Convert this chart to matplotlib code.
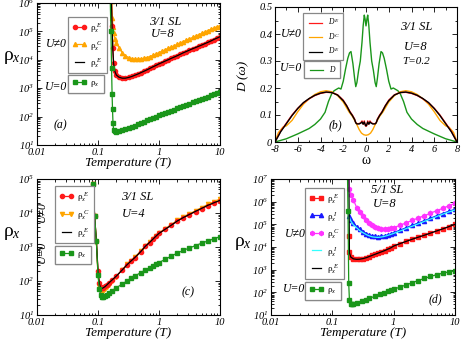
import numpy as np
import matplotlib
matplotlib.use('Agg')
import matplotlib.pyplot as plt
from matplotlib.lines import Line2D
from matplotlib.ticker import FuncFormatter, LogLocator, NullFormatter, MultipleLocator

plt.rcParams['font.family'] = ['Liberation Serif', 'DejaVu Serif']
plt.rcParams['font.style'] = 'italic'
plt.rcParams['mathtext.fontset'] = 'custom'
plt.rcParams['mathtext.rm'] = 'Liberation Serif:italic'
plt.rcParams['mathtext.it'] = 'Liberation Serif:italic'
plt.rcParams['axes.linewidth'] = 0.8

RED = '#ff1a1a'
ORANGE = '#ffa500'
GREEN = '#1a961a'
BLUE = '#1a1aff'
MAGENTA = '#ff33ff'
CYAN = '#33ffff'

# ---- panel (a): 3/1 SL, U=8 ----
Ta_E = [0.165, 0.17, 0.175, 0.18, 0.19, 0.2, 0.22, 0.25, 0.28, 0.32, 0.36, 0.4, 0.45, 0.5,
        0.56, 0.63, 0.71, 0.8, 0.9, 1.0, 1.12, 1.26, 1.41, 1.58, 1.78, 2.0, 2.24, 2.51,
        2.82, 3.16, 3.55, 3.98, 4.47, 5.01, 5.62, 6.31, 7.08, 7.94, 8.91, 10.0]
rho_a_E = [2e6, 1.5e5, 2.5e4, 8e3, 4e3, 3e3, 2.5e3, 2.2e3, 2.2e3, 2.4e3, 2.6e3, 2.9e3, 3.2e3,
           3.5e3, 3.9e3, 4.4e3, 5.0e3, 5.7e3, 6.4e3, 7.2e3, 8e3, 9e3, 1.0e4, 1.12e4, 1.25e4,
           1.4e4, 1.55e4, 1.75e4, 1.95e4, 2.2e4, 2.45e4, 2.7e4, 3.0e4, 3.3e4, 3.7e4, 4.1e4,
           4.6e4, 5.1e4, 5.8e4, 6.5e4]
rho_a_E2 = [2e6, 1.4e5, 2.4e4, 7.5e3, 3.8e3, 2.9e3, 2.45e3, 2.25e3, 2.25e3, 2.4e3, 2.6e3,
            2.85e3, 3.15e3, 3.5e3, 3.9e3, 4.4e3, 5.0e3, 5.7e3, 6.4e3, 7.2e3, 8e3, 9e3,
            1.0e4, 1.12e4, 1.25e4, 1.4e4, 1.57e4, 1.77e4, 1.97e4, 2.2e4, 2.45e4, 2.7e4,
            3.0e4, 3.3e4, 3.7e4, 4.1e4, 4.6e4, 5.2e4, 5.8e4, 6.5e4]
Ta_C = [0.168, 0.172, 0.176, 0.18, 0.19, 0.2, 0.22, 0.25, 0.28, 0.32, 0.36, 0.4, 0.45, 0.5,
        0.56, 0.63, 0.71, 0.8, 0.9, 1.0, 1.12, 1.26, 1.41, 1.58, 1.78, 2.0, 2.24, 2.51,
        2.82, 3.16, 3.55, 3.98, 4.47, 5.01, 5.62, 6.31, 7.08, 7.94, 8.91, 10.0]
rho_a_C = [1.2e6, 3e5, 1.4e5, 8.5e4, 5.5e4, 4e4, 2.7e4, 1.8e4, 1.4e4, 1.2e4, 1.1e4, 1.05e4,
           1.05e4, 1.08e4, 1.12e4, 1.2e4, 1.3e4, 1.45e4, 1.6e4, 1.8e4, 2.0e4, 2.25e4, 2.5e4,
           2.8e4, 3.1e4, 3.5e4, 3.9e4, 4.4e4, 4.9e4, 5.5e4, 6.1e4, 6.8e4, 7.6e4, 8.5e4,
           9.5e4, 1.06e5, 1.18e5, 1.3e5, 1.45e5, 1.6e5]
Ta_0 = [0.158, 0.163, 0.167, 0.17, 0.173, 0.176, 0.18, 0.19, 0.2, 0.22, 0.25, 0.28, 0.32,
        0.36, 0.4, 0.45, 0.5, 0.56, 0.63, 0.71, 0.8, 0.9, 1.0, 1.12, 1.26, 1.41, 1.58, 1.78,
        2.0, 2.24, 2.51, 2.82, 3.16, 3.55, 3.98, 4.47, 5.01, 5.62, 6.31, 7.08, 7.94, 8.91, 10.0]
rho_a_0 = [2e6, 1e5, 5e3, 650, 180, 60, 35, 30, 29, 30, 33, 36, 40, 44, 48, 54, 60, 66, 73,
           81, 90, 100, 110, 121, 133, 147, 161, 177, 195, 215, 236, 260, 286, 315, 346,
           380, 418, 460, 506, 557, 612, 673, 740]

# ---- panel (b): spectral functions ----
w_0 = [-8, -7, -6, -5, -4.5, -4, -3.6, -3.3, -3.0, -2.8, -2.6, -2.4, -2.2, -2.0, -1.8, -1.6,
       -1.45, -1.32, -1.15, -1.0, -0.9, -0.8, -0.65, -0.5, -0.35, -0.25, -0.15, -0.08, 0,
       0.08, 0.15, 0.25, 0.35, 0.5, 0.65, 0.8, 0.9, 1.0, 1.15, 1.32, 1.45, 1.6, 1.8, 2.0,
       2.2, 2.4, 2.6, 2.8, 3.0, 3.3, 3.6, 4, 4.5, 5, 6, 7, 8]
D_0 = [0.0, 0.012, 0.03, 0.05, 0.065, 0.085, 0.11, 0.15, 0.18, 0.19, 0.195, 0.2, 0.196,
       0.225, 0.27, 0.31, 0.33, 0.335, 0.29, 0.235, 0.205, 0.22, 0.265, 0.3, 0.37, 0.43,
       0.47, 0.455, 0.43, 0.455, 0.47, 0.43, 0.37, 0.3, 0.265, 0.22, 0.205, 0.235, 0.29,
       0.335, 0.33, 0.31, 0.27, 0.225, 0.196, 0.2, 0.195, 0.19, 0.18, 0.15, 0.11, 0.085,
       0.065, 0.05, 0.03, 0.012, 0.0]
w_U = [-8, -7.5, -7, -6.5, -6, -5.5, -5, -4.5, -4, -3.5, -3, -2.5, -2, -1.7, -1.4, -1.2,
       -1.0, -0.9, -0.8, -0.6, -0.45, -0.35, -0.25, -0.15, -0.05, 0, 0.05, 0.15, 0.25, 0.35,
       0.45, 0.6, 0.8, 0.9, 1.0, 1.2, 1.4, 1.7, 2, 2.5, 3, 3.5, 4, 4.5, 5, 5.5, 6, 6.5, 7,
       7.5, 8]
D_E = [0.0, 0.04, 0.07, 0.1, 0.125, 0.145, 0.16, 0.172, 0.18, 0.184, 0.183, 0.175, 0.155,
       0.135, 0.112, 0.1, 0.085, 0.072, 0.068, 0.068, 0.072, 0.078, 0.066, 0.078, 0.06,
       0.058, 0.06, 0.078, 0.066, 0.078, 0.072, 0.068, 0.068, 0.072, 0.085, 0.1, 0.112,
       0.135, 0.155, 0.175, 0.183, 0.184, 0.18, 0.172, 0.16, 0.145, 0.125, 0.1, 0.07,
       0.04, 0.0]
D_E2 = [0.0, 0.038, 0.068, 0.098, 0.124, 0.146, 0.161, 0.173, 0.181, 0.185, 0.183, 0.174,
        0.153, 0.134, 0.11, 0.098, 0.083, 0.071, 0.067, 0.067, 0.07, 0.074, 0.066, 0.074,
        0.062, 0.06, 0.062, 0.074, 0.066, 0.074, 0.07, 0.067, 0.067, 0.071, 0.083, 0.098,
        0.11, 0.134, 0.153, 0.174, 0.183, 0.185, 0.181, 0.173, 0.161, 0.146, 0.124, 0.098,
        0.068, 0.038, 0.0]
w_C = [-8, -7.7, -7.3, -7, -6.5, -6, -5.5, -5, -4.5, -4, -3.5, -3, -2.5, -2, -1.5, -1.2,
       -1.0, -0.8, -0.6, -0.4, -0.2, 0, 0.2, 0.4, 0.6, 0.8, 1.0, 1.2, 1.5, 2, 2.5, 3, 3.5,
       4, 4.5, 5, 5.5, 6, 6.5, 7, 7.3, 7.7, 8]
D_C = [0.0, 0.035, 0.055, 0.06, 0.08, 0.112, 0.14, 0.16, 0.176, 0.186, 0.19, 0.186, 0.172,
       0.148, 0.112, 0.095, 0.08, 0.064, 0.046, 0.033, 0.027, 0.025, 0.027, 0.033, 0.046,
       0.064, 0.08, 0.095, 0.112, 0.148, 0.172, 0.186, 0.19, 0.186, 0.176, 0.16, 0.14,
       0.112, 0.08, 0.06, 0.055, 0.035, 0.0]

# ---- panel (c): 3/1 SL, U=4 ----
Tc = [0.083, 0.088, 0.094, 0.1, 0.105, 0.11, 0.115, 0.12, 0.13, 0.14, 0.15, 0.17, 0.2,
      0.25, 0.3, 0.35, 0.4, 0.5, 0.6, 0.7, 0.8, 0.9, 1.0, 1.26, 1.58, 2.0, 2.51, 3.16,
      3.98, 5.01, 6.31, 7.94, 10.0]
rho_c_E = [7e4, 8e3, 1.5e3, 200, 90, 65, 62, 64, 70, 78, 88, 108, 140, 210, 300, 390, 480,
           720, 1050, 1350, 1700, 2100, 2500, 3300, 4300, 5800, 7300, 9000, 1.1e4, 1.35e4,
           1.65e4, 1.95e4, 2.3e4]
rho_c_C = [7e4, 8e3, 1.4e3, 150, 70, 52, 48, 50, 57, 66, 76, 98, 135, 215, 310, 400, 500,
           750, 1090, 1400, 1760, 2170, 2600, 3450, 4500, 6100, 7700, 9500, 1.17e4, 1.45e4,
           1.78e4, 2.15e4, 2.6e4]
rho_c_E2 = [7e4, 8e3, 1.5e3, 190, 85, 63, 60, 62, 68, 77, 87, 107, 140, 212, 302, 392, 485,
            725, 1060, 1360, 1720, 2120, 2520, 3320, 4350, 5850, 7350, 9100, 1.12e4,
            1.37e4, 1.68e4, 2.0e4, 2.35e4]
rho_c_0 = [7e4, 8e3, 1.5e3, 150, 60, 38, 33, 33, 36, 40, 44, 52, 63, 82, 100, 120, 140, 175,
           210, 245, 280, 315, 350, 430, 540, 660, 800, 940, 1100, 1300, 1500, 1750, 2000]

# ---- panel (d): 5/1 SL, U=8 ----
Td = [0.185, 0.19, 0.2, 0.22, 0.25, 0.28, 0.32, 0.36, 0.4, 0.45, 0.5, 0.56, 0.63, 0.71, 0.8,
      0.9, 1.0, 1.26, 1.58, 2.0, 2.51, 3.16, 3.98, 5.01, 6.31, 7.94, 10.0]
rho_d_E = [3e4, 6e3, 3.8e3, 3.1e3, 2.9e3, 2.9e3, 3.1e3, 3.4e3, 3.8e3, 4.3e3, 4.8e3, 5.4e3,
           6.1e3, 6.9e3, 8e3, 9.2e3, 1.1e4, 1.4e4, 1.75e4, 2.2e4, 2.7e4, 3.3e4, 4.1e4,
           5.1e4, 6.3e4, 7.9e4, 1e5]
rho_d_E2 = [1e8, 5.5e3, 3.6e3, 3.0e3, 2.85e3, 2.9e3, 3.1e3, 3.4e3, 3.8e3, 4.3e3, 4.8e3,
            5.4e3, 6.1e3, 6.9e3, 8e3, 9.2e3, 1.1e4, 1.4e4, 1.75e4, 2.2e4, 2.7e4, 3.3e4,
            4.1e4, 5.1e4, 6.3e4, 7.9e4, 1e5]
Td_I = [0.19, 0.2, 0.22, 0.25, 0.28, 0.32, 0.36, 0.4, 0.45, 0.5, 0.56, 0.63, 0.71, 0.8, 0.9,
        1.0, 1.26, 1.58, 2.0, 2.51, 3.16, 3.98, 5.01, 6.31, 7.94, 10.0]
rho_d_I = [2.3e5, 1.6e5, 1.1e5, 8e4, 6e4, 4.7e4, 3.9e4, 3.4e4, 3.1e4, 2.95e4, 2.9e4, 2.95e4,
           3.1e4, 3.4e4, 3.8e4, 4.3e4, 5.5e4, 7e4, 9e4, 1.15e5, 1.45e5, 1.85e5, 2.4e5, 3e5,
           3.8e5, 4.6e5]
rho_d_I2 = [2e5, 1.4e5, 9.5e4, 7e4, 5.3e4, 4.2e4, 3.5e4, 3.1e4, 2.8e4, 2.7e4, 2.65e4, 2.75e4,
            2.95e4, 3.25e4, 3.6e4, 4.0e4, 5e4, 6.4e4, 8.2e4, 1.05e5, 1.35e5, 1.7e5, 2.2e5,
            2.8e5, 3.5e5, 4.3e5]
Td_C = [0.185, 0.19, 0.2, 0.22, 0.25, 0.28, 0.32, 0.36, 0.4, 0.45, 0.5, 0.56, 0.63, 0.71, 0.8,
        0.9, 1.0, 1.26, 1.58, 2.0, 2.51, 3.16, 3.98, 5.01, 6.31, 7.94, 10.0]
rho_d_C = [1e8, 3.5e6, 2e6, 1.2e6, 5.5e5, 3.5e5, 2.3e5, 1.6e5, 1.2e5, 9.5e4, 8e4, 7e4, 6.4e4,
           6.2e4, 6.3e4, 6.7e4, 7.2e4, 9e4, 1.15e5, 1.5e5, 1.9e5, 2.4e5, 3.1e5, 4e5, 5.1e5,
           6.6e5, 8.5e5]
Td_0 = [0.175, 0.18, 0.185, 0.19, 0.2, 0.21, 0.22, 0.25, 0.3, 0.35, 0.4, 0.5, 0.6, 0.7, 0.8,
        0.9, 1.0, 1.26, 1.58, 2.0, 2.51, 3.16, 3.98, 5.01, 6.31, 7.94, 10.0]
rho_d_0 = [1e8, 4e5, 250, 45, 32, 30, 31, 34, 40, 47, 54, 68, 82, 96, 110, 123, 136, 170,
           210, 265, 330, 410, 500, 600, 700, 800, 880]

W, H = 463, 343
fig = plt.figure(figsize=(W / 100, H / 100), dpi=100)


def fx(px):
    return px / W


def fy(py):
    return 1 - py / H


def add_axes(x0, y0, x1, y1):
    return fig.add_axes([fx(x0), fy(y1), fx(x1) - fx(x0), fy(y0) - fy(y1)])


def style_log(ax, ymin, ymax):
    ax.set_xscale('log')
    ax.set_yscale('log')
    ax.set_xlim(0.01, 10)
    ax.set_ylim(ymin, ymax)
    ax.xaxis.set_major_locator(LogLocator(base=10, numticks=10))
    ax.xaxis.set_minor_locator(LogLocator(base=10, subs=np.arange(2, 10), numticks=20))
    ax.yaxis.set_major_locator(LogLocator(base=10, numticks=10))
    ax.yaxis.set_minor_locator(LogLocator(base=10, subs=np.arange(2, 10), numticks=20))
    ax.xaxis.set_major_formatter(FuncFormatter(lambda v, p: '%g' % v))
    ax.yaxis.set_major_formatter(FuncFormatter(lambda v, p: r'$10^{%d}$' % round(np.log10(v))))
    ax.xaxis.set_minor_formatter(NullFormatter())
    ax.yaxis.set_minor_formatter(NullFormatter())
    ticks(ax)
    ax.set_xlabel('Temperature (T)', fontsize=9.5, labelpad=0.5)


def ticks(ax):
    ax.tick_params(which='both', direction='in', top=True, right=True, labelsize=7.5, pad=2,
                   width=0.6)
    ax.tick_params(which='major', length=3.5)
    ax.tick_params(which='minor', length=1.8)


def legend(ax, entries, x0, y0, size=6.5, spacing=0.55, hl=1.6):
    handles = [Line2D([], [], color=c, marker=m, markersize=3, lw=0.9) for c, m, _ in entries]
    labels = [lab for _, _, lab in entries]
    leg = ax.legend(handles, labels, loc='upper left', bbox_to_anchor=(fx(x0), fy(y0)),
                    bbox_transform=fig.transFigure, borderaxespad=0, fancybox=False,
                    edgecolor='#888888', framealpha=1, numpoints=2, handlelength=hl,
                    handletextpad=0.4, borderpad=0.45, labelspacing=spacing,
                    prop={'size': size, 'style': 'normal'})
    leg.get_frame().set_linewidth(0.9)
    ax.add_artist(leg)


def ftext(px, py, s, size=9, **kw):
    fig.text(fx(px), fy(py), s, fontsize=size, ha='center', va='center', **kw)


# (a)
ax = add_axes(37, 3, 220, 145)
style_log(ax, 10, 1e6)
ax.plot(Ta_C, rho_a_C, color=ORANGE, marker='^', ms=3, lw=0.9)
ax.plot(Ta_E, rho_a_E, color=RED, marker='o', ms=3, lw=0.9)
ax.plot(Ta_E, rho_a_E2, color='black', lw=0.9)
ax.plot(Ta_0, rho_a_0, color=GREEN, marker='s', ms=3, lw=0.9)
legend(ax, [(RED, 'o', 'ρ$_x^{\\ E}$'), (ORANGE, '^', 'ρ$_x^{\\ C}$'),
            ('black', None, 'ρ$_x^{\\ E}$')], 68, 17, spacing=0.5)
legend(ax, [(GREEN, 's', 'ρ$_x$')], 68, 75)
ftext(12, 58, 'ρ$_x$', size=14, style='normal')
ftext(56, 44, 'U≠0', size=8.5)
ftext(56, 87, 'U=0', size=8.5)
ftext(165, 22, '3/1 SL', size=9)
ftext(163, 34, 'U=8', size=9)
ftext(60, 125, '(a)', size=8.5)

# (b)
ax = add_axes(275, 7, 457, 142)
ax.plot(w_0, D_0, color=GREEN, lw=1)
ax.plot(w_C, D_C, color=ORANGE, lw=1)
ax.plot(w_U, D_E, color=RED, lw=1)
ax.plot(w_U, D_E2, color='black', lw=1)
ax.set_xlim(-8, 8)
ax.set_ylim(0, 0.5)
ax.xaxis.set_major_locator(MultipleLocator(2))
ax.xaxis.set_minor_locator(MultipleLocator(1))
ax.yaxis.set_major_locator(MultipleLocator(0.1))
ax.yaxis.set_minor_locator(MultipleLocator(0.05))
ax.xaxis.set_major_formatter(FuncFormatter(lambda v, p: '%g' % v))
ax.yaxis.set_major_formatter(FuncFormatter(lambda v, p: '%g' % round(v, 2)))
ticks(ax)
ax.set_xlabel('ω', fontsize=10, style='normal', labelpad=0)
legend(ax, [(RED, None, '$D^{E}$'), (ORANGE, None, '$D^{C}$'), ('black', None, '$D^{E}$')],
       303, 13, size=5.5, spacing=0.45, hl=2.4)
legend(ax, [(GREEN, None, '$D$')], 304, 61, size=5.5, hl=2.4)
ftext(243, 76, 'D (ω)', size=9.5, rotation=90)
ftext(291, 34, 'U≠0', size=8.5)
ftext(291, 68, 'U=0', size=8.5)
ftext(416, 27, '3/1 SL', size=9)
ftext(416, 47, 'U=8', size=9)
ftext(416, 61, 'T=0.2', size=8)
ftext(335, 125, '(b)', size=8.5)

# (c)
ax = add_axes(37, 179, 220, 315)
style_log(ax, 10, 1e5)
ax.plot(Tc, rho_c_C, color=ORANGE, marker='v', ms=3, lw=0.9)
ax.plot(Tc, rho_c_E, color=RED, marker='o', ms=3, lw=0.9)
ax.plot(Tc, rho_c_E2, color='black', lw=0.9)
ax.plot(Tc, rho_c_0, color=GREEN, marker='s', ms=3, lw=0.9)
legend(ax, [(RED, 'o', 'ρ$_x^{\\ E}$'), (ORANGE, 'v', 'ρ$_x^{\\ C}$'),
            ('black', None, 'ρ$_x^{\\ E}$')], 55, 186)
legend(ax, [(GREEN, 's', 'ρ$_x$')], 55, 246)
ftext(12, 233, 'ρ$_x$', size=14, style='normal')
ftext(42, 212, 'U≠0', size=8.5, rotation=90)
ftext(42, 252, 'U=0', size=8.5, rotation=90)
ftext(137, 197, '3/1 SL', size=9)
ftext(134, 214, 'U=4', size=9)
ftext(188, 292, '(c)', size=8.5)

# (d)
ax = add_axes(271, 179, 455, 315)
style_log(ax, 10, 1e7)
ax.plot(Td_C, rho_d_C, color=MAGENTA, marker='h', ms=3.2, lw=0.9)
ax.plot(Td_I, rho_d_I, color=BLUE, marker='^', ms=3, lw=0.9)
ax.plot(Td_I, rho_d_I2, color=CYAN, lw=0.9)
ax.plot(Td, rho_d_E, color=RED, marker='s', ms=3, lw=0.9)
ax.plot(Td, rho_d_E2, color='black', lw=0.9)
ax.plot(Td_0, rho_d_0, color=GREEN, marker='s', ms=3, lw=0.9)
legend(ax, [(RED, 's', 'ρ$_x^{\\ E}$'), (BLUE, '^', 'ρ$_x^{\\ I}$'),
            (MAGENTA, 'h', 'ρ$_x^{\\ C}$'), (CYAN, None, 'ρ$_x^{\\ I}$'),
            ('black', None, 'ρ$_x^{\\ E}$')], 305, 188, spacing=0.5)
legend(ax, [(GREEN, 's', 'ρ$_x$')], 305, 282)
ftext(243, 243, 'ρ$_x$', size=14, style='normal')
ftext(295, 234, 'U≠0', size=8.5)
ftext(294, 289, 'U=0', size=8.5)
ftext(387, 190, '5/1 SL', size=9)
ftext(385, 204, 'U=8', size=9)
ftext(435, 299, '(d)', size=8.5)

fig.savefig('out.png', dpi=100)
